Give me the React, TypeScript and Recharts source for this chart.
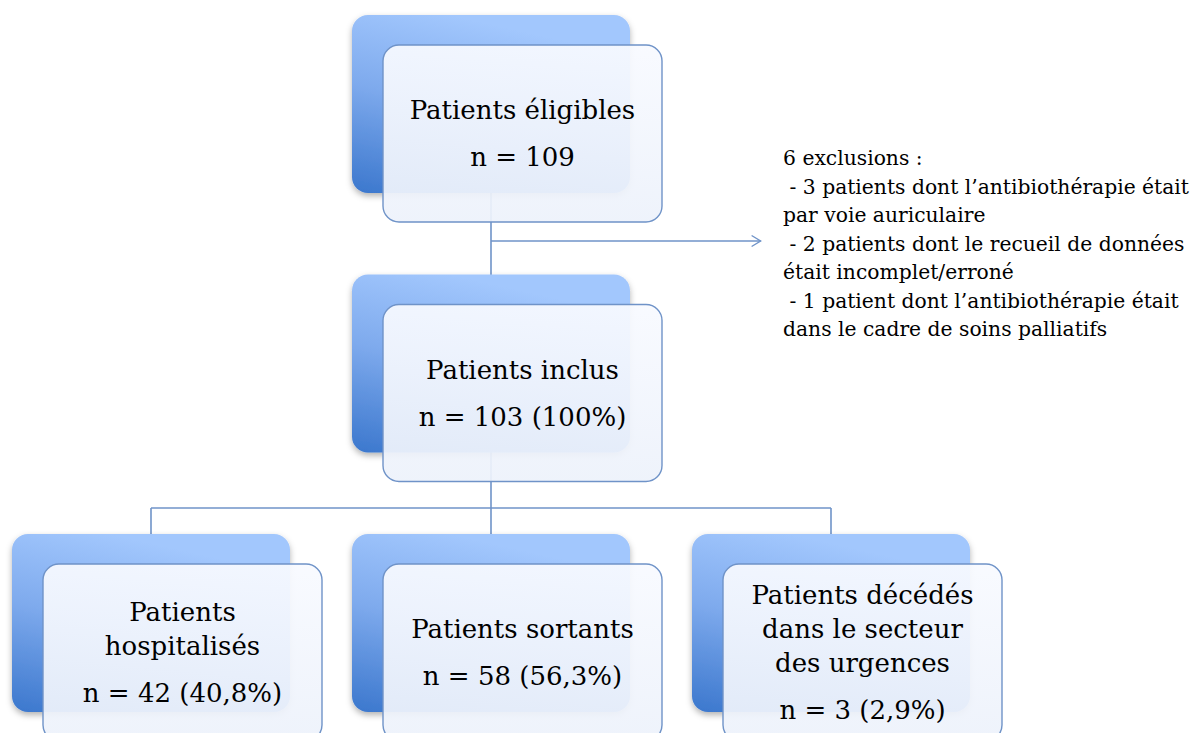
import React from 'react';
import { ScatterChart, Scatter, XAxis, YAxis, ReferenceLine } from 'recharts';

// Flowchart nodes: column (horizontal slot) and level (vertical slot)
const nodeIds = ['eligibles', 'inclus', 'hospitalises', 'sortants', 'decedes'];
const nodeCols = [0, 0, -1, 0, 1];
const nodeLevels = [0, 1, 2, 2, 2];
const nodeTitles: string[][] = [
  ['Patients éligibles'],
  ['Patients inclus'],
  ['Patients', 'hospitalisés'],
  ['Patients sortants'],
  ['Patients décédés', 'dans le secteur', 'des urgences'],
];
const nodeCounts = ['n = 109', 'n = 103 (100%)', 'n = 42 (40,8%)', 'n = 58 (56,3%)', 'n = 3 (2,9%)'];

// Exclusion note
const noteLines = [
  '6 exclusions :',
  ' - 3 patients dont l\u2019antibiothérapie était',
  'par voie auriculaire',
  ' - 2 patients dont le recueil de données',
  'était incomplet/erroné',
  ' - 1 patient dont l\u2019antibiothérapie était',
  'dans le cadre de soins palliatifs',
];
const noteCol = 0.859;
const noteLevel = 0.208;

// Connectors (in column / level units)
const splitLevel = 1.557;
const arrowLevel = 0.528;
const arrowEndCol = 0.793;
const connectors = [
  { x1: 0, y1: 0, x2: 0, y2: 1 },
  { x1: 0, y1: 1, x2: 0, y2: 2 },
  { x1: -1, y1: splitLevel, x2: 1, y2: splitLevel },
  { x1: -1, y1: splitLevel, x2: -1, y2: 2 },
  { x1: 1, y1: splitLevel, x2: 1, y2: 2 },
];

const nodes = nodeIds.map((id, i) => ({
  id,
  col: nodeCols[i],
  level: nodeLevels[i],
  title: nodeTitles[i],
  count: nodeCounts[i],
}));
const noteData = [{ col: noteCol, level: noteLevel, lines: noteLines }];

const W = 1197;
const H = 733;
const BACK_W = 278;
const BACK_H = 178;
const FRONT_DX = 31.5;
const FRONT_DY = 29.5;
const FRONT_W = 279;
const FRONT_H = 177;
const LINE_COLOR = '#6f93c8';
const FONT = '"DejaVu Serif", serif';

const NodeShape = (props: any) => {
  const { cx, cy, payload } = props;
  if (cx == null || cy == null) return null;
  const bx = cx - BACK_W / 2;
  const by = cy - BACK_H / 2;
  const fcx = cx + FRONT_DX;
  const fcy = cy + FRONT_DY;
  const fx = fcx - FRONT_W / 2;
  const fy = fcy - FRONT_H / 2;
  const titles: string[] = payload.title;
  const k = titles.length;
  const total = (k - 1) * 34 + 47;
  const first = fcy - total / 2;
  return (
    <g>
      <rect x={bx} y={by} width={BACK_W} height={BACK_H} rx={16} ry={16}
        fill="url(#backGrad)" filter="url(#backShadow)" />
      <rect x={fx} y={fy} width={FRONT_W} height={FRONT_H} rx={16} ry={16}
        fill="url(#frontGrad)" fillOpacity={0.93} stroke={LINE_COLOR} strokeWidth={1.4} />
      {titles.map((t, i) => (
        <text key={i} x={fcx} y={first + i * 34} dy="0.36em" textAnchor="middle"
          fontFamily={FONT} fontSize={26} fill="#000">{t}</text>
      ))}
      <text x={fcx} y={first + (k - 1) * 34 + 47} dy="0.36em" textAnchor="middle"
        fontFamily={FONT} fontSize={26} fill="#000">{payload.count}</text>
    </g>
  );
};

const NoteShape = (props: any) => {
  const { cx, cy, payload } = props;
  if (cx == null || cy == null) return null;
  return (
    <g>
      {payload.lines.map((l: string, i: number) => (
        <text key={i} x={cx} y={cy + i * 28.5} dy="0.36em" textAnchor="start"
          fontFamily={FONT} fontSize={20.3} fill="#000" style={{ whiteSpace: 'pre' }}
          xmlSpace="preserve">{l}</text>
      ))}
    </g>
  );
};

const ArrowShape = (props: any) => {
  const { x1, y1, x2, y2 } = props;
  if (x1 == null) return null;
  return (
    <g>
      <line x1={x1} y1={y1} x2={x2} y2={y2} stroke={LINE_COLOR} strokeWidth={1.4} />
      <polyline points={`${x2 - 9},${y2 - 5.5} ${x2},${y2} ${x2 - 9},${y2 + 5.5}`}
        fill="none" stroke={LINE_COLOR} strokeWidth={1.4} />
    </g>
  );
};

// domain: col -1..1 -> px 151..831 ; level 0..2 -> px 104..623
const X_UNIT = 340;
const X_ORIGIN = 491;
const Y_UNIT = 259.5;
const Y_ORIGIN = 104;
const xDomain = [-X_ORIGIN / X_UNIT, (W - X_ORIGIN) / X_UNIT];
const yDomain = [-Y_ORIGIN / Y_UNIT, (H - Y_ORIGIN) / Y_UNIT];

export default function App() {
  return (
    <div style={{ position: 'absolute', left: 0, top: 0, width: W, height: H, background: '#fff' }}>
      <ScatterChart width={W} height={H} margin={{ top: 0, right: 0, bottom: 0, left: 0 }}>
        <defs>
          <linearGradient id="backGrad" x1="0.35" y1="0" x2="0" y2="1">
            <stop offset="0" stopColor="#a2c7fd" />
            <stop offset="0.45" stopColor="#7eaaed" />
            <stop offset="1" stopColor="#3b77cd" />
          </linearGradient>
          <linearGradient id="frontGrad" x1="0" y1="0" x2="0" y2="1">
            <stop offset="0" stopColor="#f8faff" />
            <stop offset="1" stopColor="#edf2fb" />
          </linearGradient>
          <filter id="backShadow" x="-10%" y="-10%" width="120%" height="125%">
            <feDropShadow dx="0" dy="3" stdDeviation="3" floodColor="#000" floodOpacity="0.3" />
          </filter>
        </defs>
        <XAxis type="number" dataKey="col" domain={xDomain} hide allowDataOverflow />
        <YAxis type="number" dataKey="level" domain={yDomain} reversed hide allowDataOverflow />
        {connectors.map((c, i) => (
          <ReferenceLine key={i} segment={[{ x: c.x1, y: c.y1 }, { x: c.x2, y: c.y2 }]}
            stroke={LINE_COLOR} strokeWidth={1.6} ifOverflow="visible" />
        ))}
        <ReferenceLine segment={[{ x: 0, y: arrowLevel }, { x: arrowEndCol, y: arrowLevel }]}
          ifOverflow="visible" shape={ArrowShape} />
        <Scatter data={nodes} shape={NodeShape} isAnimationActive={false} />
        <Scatter data={noteData} shape={NoteShape} isAnimationActive={false} />
      </ScatterChart>
    </div>
  );
}
